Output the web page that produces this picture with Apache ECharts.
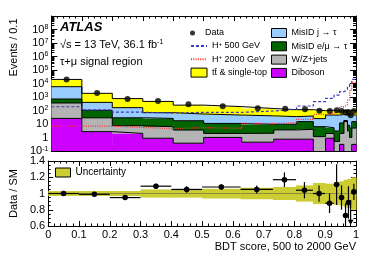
<!DOCTYPE html>
<html><head><meta charset="utf-8">
<script src="https://cdn.jsdelivr.net/npm/echarts@6/dist/echarts.min.js"></script>
<style>html,body{margin:0;padding:0;background:#fff}#c{width:374px;height:268px}</style>
</head><body><div id="c"></div>
<script>
// ---- data ----
const binEdges = [0, 0.1, 0.2, 0.3, 0.4, 0.5, 0.625, 0.73, 0.805, 0.86, 0.9, 0.928, 0.946, 0.96, 0.972, 0.979, 0.986, 1.0];
const diboson  = [26, 2.7, 2.0, 0.87, 0.37, 1.0, 0.44, 0.74, 0.74, 0.05, 0.87, 0.05, 0.3, 0.05, 0.05, 0.05, 0.3];
const wzjets   = [334, 26, 5.5, 5.4, 3.2, 1.0, 1.6, 2.9, 3.3, 1.1, 1.1, 0.45, 1.7, 15, 3, 0.95, 4.7];
const misidE   = [350, 74, 21.5, 19.7, 13.9, 9, 7.5, 5.9, 11, 5.2, 3.3, 2.5, 10, 3, 5, 4, 10];
const misidJ   = [5090, 297, 133, 43, 37.5, 35, 30.5, 25.5, 24, 18.7, 40.7, 43, 38, 27, 32, 45, 30];
const ttbar    = [14200, 1470, 598, 401, 195, 149, 100, 80, 76, 72, 58, 44, 45, 55, 45, 50, 45];
const hplus500  = [190, 110, 75, 65, 73, 73, 92, 122, 215, 450, 800, 1400, 2500, 3300, 5800, 10000, 20000];
const hplus2000 = [7, 7, 5.6, 4.5, 5.3, 4.8, 11, 12, 22, 52, 62, 80, 190, 260, 600, 3300, 12000];
const dataEvents = [20000, 2000, 720, 510, 290, 210, 147, 135, 122, 97, 92, 105, 90, 73, 76, 45, 92];
const ratio    = [1.00, 0.99, 0.95, 1.09, 1.05, 1.08, 1.05, 1.17, 1.04, 1.00, 0.88, 1.11, 0.95, 0.73, 0.89, 0.45, 1.02];
const ratioErr = [0.01, 0.015, 0.02, 0.03, 0.04, 0.035, 0.05, 0.09, 0.1, 0.1, 0.12, 0.25, 0.15, 0.15, 0.2, 0.47, 0.1];
const uncErr   = [0.03, 0.03, 0.03, 0.05, 0.05, 0.06, 0.07, 0.08, 0.1, 0.13, 0.12, 0.14, 0.15, 0.17, 0.18, 0.18, 0.2];

const FONT = 'Liberation Sans, Arial, Helvetica, sans-serif';
const nb = binEdges.length - 1;
const centers = [];
for (let i = 0; i < nb; i++) centers.push((binEdges[i] + binEdges[i + 1]) / 2);

const processes = [
  {name: 'Diboson', values: diboson, color: '#cc00ff'},
  {name: 'W/Z+jets', values: wzjets, color: '#b4b4b4'},
  {name: 'MisID e/μ → τ', values: misidE, color: '#006400'},
  {name: 'MisID j → τ', values: misidJ, color: '#99ccff'},
  {name: 'tt\u0304 & single-top', values: ttbar, color: '#ffff00'}
];

const series = [];
let lows = new Array(nb).fill(0.01);
const tops = [];
processes.forEach((p, k) => {
  const highs = p.values.map((v, i) => lows[i] + v);
  const lo = lows.slice();
  series.push({
    type: 'custom', name: p.name, xAxisIndex: 0, yAxisIndex: 0, clip: true, z: 2,
    itemStyle: {color: p.color},
    data: lo.map((l, i) => [binEdges[i], binEdges[i + 1], l, highs[i]]),
    encode: {x: [0, 1], y: [2, 3]},
    renderItem: (params, api) => {
      const a = api.coord([api.value(0), api.value(3)]);
      const b = api.coord([api.value(1), api.value(2)]);
      if (!(b[1] > a[1])) return null;
      return {type: 'rect', shape: {x: a[0], y: a[1], width: b[0] - a[0] + 0.5, height: b[1] - a[1]},
        style: {fill: p.color}};
    }
  });
  tops.push(highs);
  lows = highs;
});

function stepData(values) {
  const d = values.map((v, i) => [binEdges[i], v]);
  d.push([binEdges[nb], values[nb - 1]]);
  return d;
}
tops.forEach((t) => {
  series.push({type: 'line', step: 'end', data: stepData(t), symbol: 'none', silent: true,
    xAxisIndex: 0, yAxisIndex: 0, z: 3, clip: true,
    lineStyle: {color: '#000', width: 1}});
});
series.push({type: 'line', name: 'H+ 500 GeV', step: 'end', data: stepData(hplus500), symbol: 'none',
  xAxisIndex: 0, yAxisIndex: 0, z: 4, clip: true, itemStyle: {color: '#3c3cb4'},
  lineStyle: {color: '#3c3cb4', width: 1.2, type: [3, 2]}});
series.push({type: 'line', name: 'H+ 2000 GeV', step: 'end', data: stepData(hplus2000), symbol: 'none',
  xAxisIndex: 0, yAxisIndex: 0, z: 4, clip: true, itemStyle: {color: '#ff3030'},
  lineStyle: {color: '#ff3030', width: 1.4, type: [1, 1.3]}});
series.push({type: 'scatter', name: 'Data', data: centers.map((c, i) => [c, dataEvents[i]]),
  xAxisIndex: 0, yAxisIndex: 0, z: 6, symbolSize: 6, itemStyle: {color: '#000'}});

// ratio panel
series.push({
  type: 'custom', name: 'Uncertainty', xAxisIndex: 2, yAxisIndex: 2, clip: true, z: 2,
  itemStyle: {color: '#cccc33', borderColor: '#000'},
  data: uncErr.map((e, i) => [binEdges[i], binEdges[i + 1], 1 - e, 1 + e]),
  encode: {x: [0, 1], y: [2, 3]},
  renderItem: (params, api) => {
    const a = api.coord([api.value(0), api.value(3)]);
    const b = api.coord([api.value(1), api.value(2)]);
    const m = api.coord([api.value(0), 1]);
    return {type: 'group', children: [
      {type: 'rect', shape: {x: a[0], y: a[1], width: b[0] - a[0] + 0.5, height: b[1] - a[1]},
        style: {fill: '#cccc33'}},
      {type: 'line', shape: {x1: a[0], y1: m[1], x2: b[0], y2: m[1]}, style: {stroke: '#8c8c3c', lineWidth: 1}}
    ]};
  }
});
series.push({
  type: 'custom', name: 'Data / SM', xAxisIndex: 2, yAxisIndex: 2, clip: true, z: 5,
  data: ratio.map((r, i) => [binEdges[i], binEdges[i + 1], centers[i], r, ratioErr[i]]),
  encode: {x: [0, 1, 2], y: 3},
  renderItem: (params, api) => {
    const x0 = api.value(0), x1 = api.value(1), xc = api.value(2), r = api.value(3), e = api.value(4);
    const ch = [];
    if (r < 0.6) {
      const top = api.coord([xc, r + e]);
      const tip = api.coord([xc, 0.615]);
      ch.push({type: 'line', shape: {x1: top[0], y1: top[1], x2: tip[0], y2: tip[1] - 4}, style: {stroke: '#000', lineWidth: 1.2}});
      ch.push({type: 'polygon', shape: {points: [[tip[0] - 3, tip[1] - 5], [tip[0] + 3, tip[1] - 5], [tip[0], tip[1]]]}, style: {fill: '#000'}});
      return {type: 'group', children: ch};
    }
    const p = api.coord([xc, r]);
    const pl = api.coord([x0, r]);
    const pr = api.coord([x1, r]);
    const pu = api.coord([xc, r + e]);
    const pd = api.coord([xc, r - e]);
    ch.push({type: 'line', shape: {x1: pl[0], y1: p[1], x2: pr[0], y2: p[1]}, style: {stroke: '#000', lineWidth: 1.2}});
    ch.push({type: 'line', shape: {x1: p[0], y1: pu[1], x2: p[0], y2: pd[1]}, style: {stroke: '#000', lineWidth: 1.2}});
    ch.push({type: 'circle', shape: {cx: p[0], cy: p[1], r: 2.8}, style: {fill: '#000'}});
    return {type: 'group', children: ch};
  }
});

const supRich = {sup: {fontSize: 7, verticalAlign: 'top', lineHeight: 8, fontFamily: FONT, color: '#000'}};
function xAx(grid, pos, labels) {
  return {type: 'value', gridIndex: grid, position: pos, min: 0, max: 1, interval: 0.1,
    axisLine: {onZero: false, lineStyle: {color: '#000', width: 1}},
    axisTick: {inside: true, length: 5, lineStyle: {color: '#000'}},
    minorTick: {show: true, splitNumber: 5, length: 2.5, lineStyle: {color: '#000'}},
    splitLine: {show: false},
    axisLabel: {show: labels, margin: 3, fontSize: 11, color: '#000', fontFamily: FONT,
      formatter: v => (Math.abs(v - 1) < 1e-9 ? '1' : (Math.abs(v) < 1e-9 ? '0' : v.toFixed(1)))},
    name: labels ? 'BDT score, 500 to 2000 GeV' : '', nameLocation: 'end', nameGap: 0,
    nameTextStyle: {align: 'right', verticalAlign: 'top', padding: [15, 0, 0, 0], fontSize: 11, color: '#000', fontFamily: FONT}
  };
}
const logFmt = v => {
  const e = Math.round(Math.log10(v));
  if (e >= 9) return '';
  if (e === 0) return '1';
  if (e === 1) return '10';
  return '10{sup|' + e + '}';
};
function yLog(pos, labels) {
  return {type: 'log', gridIndex: 0, position: pos, min: 0.1, max: 1e9, logBase: 10, splitNumber: 10,
    axisLine: {onZero: false, lineStyle: {color: '#000'}},
    axisTick: {inside: true, length: 6, lineStyle: {color: '#000'}},
    minorTick: {show: true, splitNumber: 9, length: 3, lineStyle: {color: '#000'}},
    splitLine: {show: false},
    axisLabel: {show: labels, margin: 3, fontSize: 11, color: '#000', fontFamily: FONT, formatter: logFmt, rich: supRich,
      showMinLabel: true},
    name: labels ? 'Events / 0.1' : '', nameLocation: 'middle', nameRotate: 90, nameGap: 27,
    nameTextStyle: {fontSize: 11, color: '#000', fontFamily: FONT, padding: [0, 0, 0, 72]}
  };
}
function yRat(pos, labels) {
  return {type: 'value', gridIndex: 1, position: pos, min: 0.6, max: 1.4, interval: 0.2,
    axisLine: {onZero: false, lineStyle: {color: '#000'}},
    axisTick: {inside: true, length: 5, lineStyle: {color: '#000'}},
    minorTick: {show: true, splitNumber: 4, length: 2.5, lineStyle: {color: '#000'}},
    splitLine: {show: false},
    axisLabel: {show: labels, margin: 3, fontSize: 11, color: '#000', fontFamily: FONT,
      formatter: v => (Math.abs(v - 1) < 1e-9 ? '1' : String(Math.round(v * 10) / 10))},
    name: labels ? 'Data / SM' : '', nameLocation: 'middle', nameRotate: 90, nameGap: 24,
    nameTextStyle: {fontSize: 11, color: '#000', fontFamily: FONT}
  };
}

const legendText = {fontSize: 9, color: '#000', fontFamily: FONT, lineHeight: 10,
  rich: {sup: {fontSize: 6, verticalAlign: 'top', lineHeight: 6, fontFamily: FONT, color: '#000'}}};
const legFmt = n => n.replace('H+', 'H{sup|+}');
const boxItem = (name, color) => ({name, icon: 'rect', itemStyle: {color, borderColor: '#000', borderWidth: 1}});
const lineItem = (name) => ({name, itemStyle: {opacity: 0}});

const option = {
  animation: false,
  textStyle: {fontFamily: FONT},
  grid: [
    {left: 44, right: 18, top: 16, height: 135, show: false},
    {left: 44, right: 18, top: 161, height: 65, show: false}
  ],
  xAxis: [xAx(0, 'bottom', false), xAx(0, 'top', false), xAx(1, 'bottom', true), xAx(1, 'top', false)],
  yAxis: [yLog('left', true), yLog('right', false), yRat('left', true), yRat('right', false)],
  legend: [
    {left: 190, top: 28, padding: 0, orient: 'vertical', itemWidth: 15, itemHeight: 5, itemGap: 3.3, selectedMode: false,
      textStyle: legendText, data: [{name: 'Data', icon: 'circle'}]},
    {left: 190, top: 41, padding: 0, orient: 'vertical', itemWidth: 16, itemHeight: 9, itemGap: 3.3, selectedMode: false,
      textStyle: legendText, formatter: legFmt,
      data: [lineItem('H+ 500 GeV'), lineItem('H+ 2000 GeV'), boxItem('tt\u0304 & single-top', '#ffff00')]},
    {left: 271, top: 28, padding: 0, orient: 'vertical', itemWidth: 15, itemHeight: 9, itemGap: 3.3, selectedMode: false,
      textStyle: legendText,
      data: [boxItem('MisID j → τ', '#99ccff'), boxItem('MisID e/μ → τ', '#006400'),
             boxItem('W/Z+jets', '#b4b4b4'), boxItem('Diboson', '#cc00ff')]},
    {left: 55, top: 167.5, padding: 0, orient: 'vertical', itemWidth: 15, itemHeight: 9, selectedMode: false,
      textStyle: {fontSize: 10, color: '#000', fontFamily: FONT},
      data: [boxItem('Uncertainty', '#cccc33')]}
  ],
  graphic: [
    {type: 'text', left: 60, top: 21, style: {text: 'ATLAS', fontSize: 13, fontWeight: 'bold', fontStyle: 'italic', fontFamily: FONT, fill: '#000'}},
    {type: 'text', left: 60, top: 39, style: {text: '√s = 13 TeV, 36.1 fb{sup|-1}', fontSize: 11, fontFamily: FONT, fill: '#000',
      rich: {sup: {fontSize: 7, verticalAlign: 'top', lineHeight: 7, fontFamily: FONT, fill: '#000'}}}},
    {type: 'text', left: 60, top: 56, style: {text: 'τ+μ signal region', fontSize: 11, fontFamily: FONT, fill: '#000'}}
  ],
  series
};
const chart = echarts.init(document.getElementById('c'), null, {renderer: 'canvas'});
chart.setOption(option);
</script></body></html>
